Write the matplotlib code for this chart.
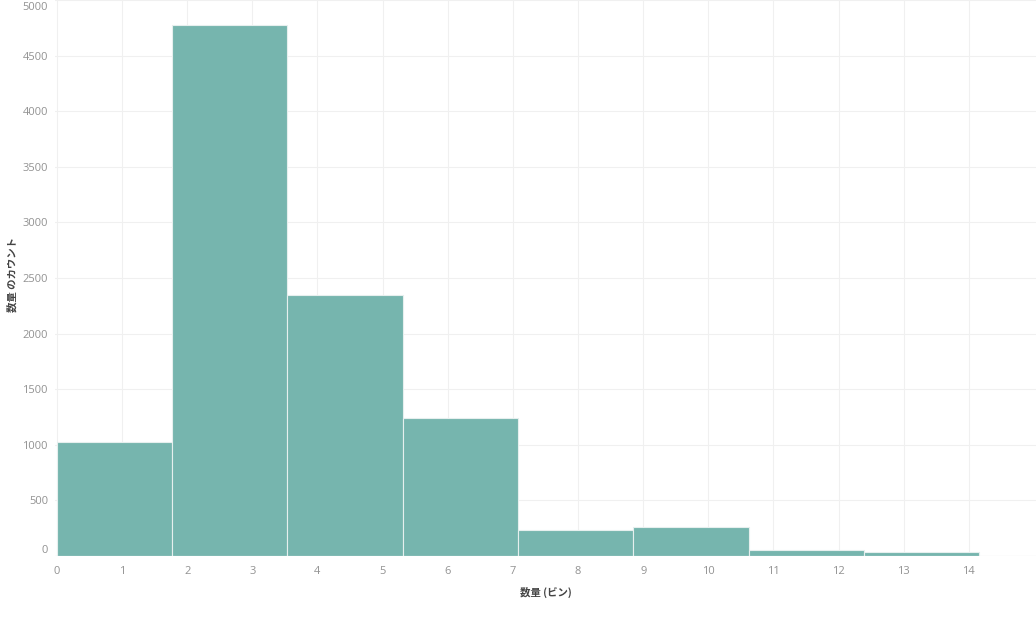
import matplotlib
matplotlib.use("Agg")
import matplotlib.pyplot as plt
import matplotlib.transforms as mtransforms
import numpy as np

# Data
bin_width = 1.77
bin_starts = [0.0, 1.77, 3.54, 5.31, 7.08, 8.85, 10.62, 12.39]
counts = [1027, 4775, 2345, 1240, 232, 260, 55, 37]
x_ticks = list(range(0, 15))
y_ticks = [0, 500, 1000, 1500, 2000, 2500, 3000, 3500, 4000, 4500, 5000]
x_label = "数量 (ビン)"
y_label = "数量 のカウント"

plt.rcParams['font.family'] = ['Noto Sans CJK JP', 'DejaVu Sans']

fig = plt.figure(figsize=(10.36, 6.22), dpi=100)
ax = fig.add_axes([0.053, 0.106, 0.947, 0.894])

ax.bar(bin_starts, counts, width=bin_width, align='edge',
       color='#76b5ae', edgecolor='#e6efee', linewidth=0.8, zorder=3)

ax.set_xlim(-0.03, 15.03)
ax.set_ylim(0, 5000)
ax.set_xticks(x_ticks)
ax.set_yticks(y_ticks)
ax.grid(True, color='#f0f0f0', linewidth=0.8, zorder=0)
for s in ax.spines.values():
    s.set_visible(False)
ax.axhline(0, color='#e8e8e8', linewidth=0.8, zorder=4)

ax.tick_params(axis='both', length=0, labelsize=8, labelcolor='#929292')
ax.tick_params(axis='x', pad=7)
ax.tick_params(axis='y', pad=5)
for t in ax.get_xticklabels() + ax.get_yticklabels():
    t.set_fontfamily(['Open Sans', 'DejaVu Sans'])

# shift the "0" y label up and the top label down, like the reference
lbls = ax.get_yticklabels()
up = mtransforms.ScaledTranslation(0, 7/100, fig.dpi_scale_trans)
lbls[0].set_transform(lbls[0].get_transform() + up)
down = mtransforms.ScaledTranslation(0, -6/100, fig.dpi_scale_trans)
lbls[-1].set_transform(lbls[-1].get_transform() + down)

ax.set_xlabel(x_label, fontsize=7.5, color='#444444', fontweight='bold', labelpad=7)
fig.text(0.012, 0.558, y_label, rotation=90, fontsize=7.5, color='#444444',
         fontweight='bold', ha='center', va='center')

fig.savefig('out.png', dpi=100, facecolor='white')
